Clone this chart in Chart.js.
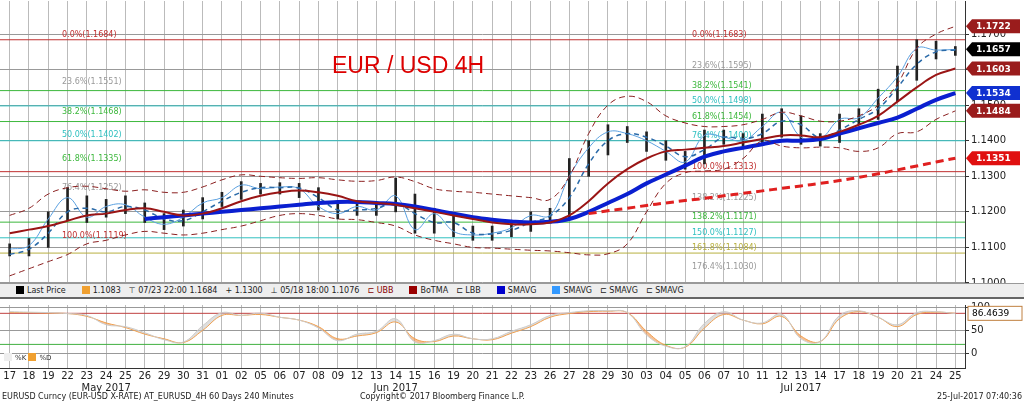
<!DOCTYPE html>
<html><head><meta charset="utf-8">
<script src="https://cdn.jsdelivr.net/npm/chart.js@4.4.0/dist/chart.umd.min.js"></script>
<style>
body{margin:0;background:#fff;width:1024px;height:401px;overflow:hidden;position:relative;font-family:"DejaVu Sans",sans-serif}
#c1{position:absolute;left:0;top:-7px}
#c2{position:absolute;left:0;top:297px}
#leg{position:absolute;left:0;top:283px;width:1024px;height:13px;background:#eee;border-top:1px solid #999;border-bottom:2px solid #666;font-size:8px;line-height:13px;color:#222;white-space:nowrap}
#leg span{margin-left:8px}
.b{display:inline-block;width:8px;height:8px;vertical-align:-1px;margin-right:3px}
#foot{position:absolute;left:2px;top:392px;font-size:8px;color:#222}
#copy{position:absolute;left:360px;top:392px;font-size:8px;color:#222}
#date{position:absolute;right:2px;top:392px;font-size:8px;color:#222}
#title{position:absolute;left:332px;top:52px;color:#d00;font-family:"Liberation Sans",sans-serif;font-size:23px}
#kd{position:absolute;left:4px;top:353px;font-size:7px;color:#333}
</style></head><body>
<canvas id="c1" width="1024" height="304"></canvas>
<canvas id="c2" width="1024" height="104"></canvas>
<div id="title">EUR / USD 4H</div>
<div id="leg"><span><span class="b" style="background:#000"></span>Last Price</span><span><span class="b" style="background:#f0a030"></span>1.1083</span><span>⊤ 07/23 22:00 1.1684</span><span>+ 1.1300</span><span>⊥ 05/18 18:00 1.1076</span><span style="color:#800">⊏ UBB</span><span><span class="b" style="background:#900"></span>BoTMA</span><span>⊏ LBB</span><span><span class="b" style="background:#00c"></span>SMAVG</span><span><span class="b" style="background:#3399ff"></span>SMAVG</span><span>⊏ SMAVG</span><span>⊏ SMAVG</span></div>
<div id="kd"><span class="b" style="background:#eee"></span>%K <span class="b" style="background:#f0a030"></span>%D</div>
<div id="foot">EURUSD Curncy (EUR-USD X-RATE) AT_EURUSD_4H 60 Days 240 Minutes</div>
<div id="copy">Copyright© 2017 Bloomberg Finance L.P.</div>
<div id="date">25-Jul-2017 07:40:36</div>
<script>
const days=['17','18','19','22','23','24','25','26','29','30','31','01','02','05','06','07','08','09','12','13','14','15','16','19','20','21','22','23','26','27','28','29','30','03','04','05','06','07','10','11','12','13','14','17','18','19','20','21','24','25'];
const months={5:'May 2017',20:'Jun 2017',41:'Jul 2017'};
const closeP=[1.1095,1.1105,1.1180,1.1240,1.1185,1.1215,1.1220,1.1185,1.1165,1.1185,1.1225,1.1240,1.1275,1.1265,1.1270,1.1265,1.1215,1.1195,1.1215,1.1205,1.1245,1.1150,1.1195,1.1145,1.1135,1.1140,1.1155,1.1190,1.1190,1.1300,1.1380,1.1425,1.1420,1.1400,1.1370,1.1340,1.1415,1.1410,1.1400,1.1440,1.1480,1.1410,1.1405,1.1460,1.1465,1.1520,1.1580,1.1660,1.1655,1.1657];
const highP=[1.1110,1.1125,1.1200,1.1268,1.1245,1.1235,1.1245,1.1225,1.1195,1.1205,1.1240,1.1255,1.1285,1.1280,1.1282,1.1280,1.1268,1.1225,1.1230,1.1225,1.1295,1.1250,1.1210,1.1190,1.1160,1.1160,1.1175,1.1200,1.1210,1.1350,1.1400,1.1445,1.1440,1.1425,1.1400,1.1370,1.1430,1.1430,1.1420,1.1475,1.1490,1.1470,1.1420,1.1475,1.1490,1.1545,1.1610,1.1684,1.1680,1.1665];
const lowP=[1.1076,1.1076,1.1100,1.1175,1.1170,1.1185,1.1195,1.1170,1.1150,1.1160,1.1180,1.1215,1.1235,1.1250,1.1250,1.1240,1.1205,1.1180,1.1190,1.1190,1.1200,1.1140,1.1140,1.1130,1.1120,1.1120,1.1130,1.1145,1.1170,1.1180,1.1300,1.1360,1.1395,1.1370,1.1345,1.1320,1.1335,1.1390,1.1385,1.1395,1.1410,1.1390,1.1385,1.1395,1.1445,1.1460,1.1510,1.1570,1.1630,1.1640];
const botma=[1.1140,1.1150,1.1160,1.1175,1.1190,1.1195,1.1205,1.1210,1.1200,1.1190,1.1195,1.1210,1.1230,1.1245,1.1255,1.1260,1.1255,1.1245,1.1230,1.1225,1.1220,1.1210,1.1200,1.1190,1.1180,1.1170,1.1165,1.1165,1.1170,1.1190,1.1230,1.1280,1.1320,1.1350,1.1370,1.1375,1.1380,1.1385,1.1395,1.1405,1.1415,1.1415,1.1410,1.1425,1.1445,1.1470,1.1510,1.1550,1.1585,1.1603];
const smaLong=[null,null,null,null,null,null,null,1.1180,1.1185,1.1190,1.1195,1.1200,1.1205,1.1210,1.1215,1.1220,1.1225,1.1228,1.1228,1.1225,1.1222,1.1215,1.1205,1.1195,1.1185,1.1178,1.1173,1.1170,1.1172,1.1180,1.1200,1.1225,1.1250,1.1280,1.1305,1.1330,1.1355,1.1370,1.1380,1.1390,1.1400,1.1400,1.1405,1.1420,1.1435,1.1450,1.1465,1.1490,1.1515,1.1534];
const smaShort=[1.1080,1.1095,1.1140,1.1200,1.1210,1.1200,1.1215,1.1205,1.1180,1.1175,1.1200,1.1230,1.1255,1.1268,1.1268,1.1267,1.1240,1.1205,1.1205,1.1210,1.1225,1.1195,1.1170,1.1170,1.1140,1.1138,1.1148,1.1170,1.1188,1.1240,1.1335,1.1400,1.1420,1.1410,1.1385,1.1355,1.1375,1.1410,1.1405,1.1420,1.1455,1.1445,1.1408,1.1430,1.1460,1.1490,1.1550,1.1615,1.1650,1.1655];
const ubb=[1.1190,1.1210,1.1250,1.1268,1.1272,1.1265,1.1258,1.1262,1.1255,1.1255,1.1270,1.1290,1.1304,1.1300,1.1296,1.1294,1.1296,1.1290,1.1286,1.1288,1.1298,1.1285,1.1265,1.1258,1.1255,1.1250,1.1245,1.1240,1.1235,1.1300,1.1420,1.1500,1.1525,1.1510,1.1470,1.1450,1.1440,1.1440,1.1445,1.1460,1.1480,1.1470,1.1455,1.1455,1.1470,1.1500,1.1560,1.1660,1.1700,1.1722];
const lbb=[1.1020,1.1040,1.1060,1.1080,1.1110,1.1120,1.1135,1.1145,1.1140,1.1135,1.1140,1.1150,1.1160,1.1175,1.1190,1.1195,1.1190,1.1180,1.1178,1.1170,1.1160,1.1135,1.1120,1.1110,1.1100,1.1098,1.1095,1.1092,1.1090,1.1085,1.1079,1.1082,1.1110,1.1200,1.1280,1.1310,1.1315,1.1320,1.1350,1.1400,1.1385,1.1380,1.1382,1.1380,1.1370,1.1380,1.1420,1.1425,1.1460,1.1484];
const sma200=[null,null,null,null,null,null,null,null,null,null,null,null,null,null,null,null,null,null,null,null,null,null,null,null,null,null,null,null,null,null,1.1195,1.1203,1.1210,1.1218,1.1225,1.1232,1.1238,1.1245,1.1252,1.1259,1.1266,1.1273,1.1280,1.1288,1.1297,1.1307,1.1318,1.1329,1.1340,1.1351];
const fibLevels=[1.1684,1.1595,1.1541,1.1498,1.1454,1.1400,1.1313,1.1225,1.1171,1.1127,1.1084,1.1030];
const fibNames=['0.0%(1.1683)','23.6%(1.1595)','38.2%(1.1541)','50.0%(1.1498)','61.8%(1.1454)','76.4%(1.1400)','100.0%(1.1313)','138.2%(1.1225)','138.2%(1.1171)','150.0%(1.1127)','161.8%(1.1084)','176.4%(1.1030)'];
const fibColors=['#c03030','#999','#3cb83c','#30c0c0','#3cb83c','#30c0c0','#c03030','#999','#3cb83c','#30c0c0','#b8b040','#999'];
const fibLeft=[1.1684,1.1551,1.1468,1.1402,1.1335,1.1252,1.1119];
const fibLeftNames=['0.0%(1.1684)','23.6%(1.1551)','38.2%(1.1468)','50.0%(1.1402)','61.8%(1.1335)','76.4%(1.1252)','100.0%(1.1119)'];
const fibLeftColors=['#c03030','#999','#3cb83c','#30c0c0','#3cb83c','#999','#c03030'];
const tagVals=[1.1722,1.1657,1.1603,1.1534,1.1484,1.1351];
const tagColors=['#9a1c1c','#000','#9a1c1c','#1030d0','#9a1c1c','#e01010'];
const priceTicks=[1.10,1.11,1.12,1.13,1.14,1.15,1.16,1.17];
const stochK=[90,89,88,86,82,62,58,45,30,25,60,88,82,87,78,72,55,28,42,48,75,25,28,42,32,32,48,62,82,88,92,92,88,40,16,15,65,90,72,66,85,32,26,82,92,78,62,88,90,86];
const stochD=[88,88,87,86,80,66,56,42,32,24,50,82,82,84,78,72,58,32,38,45,68,32,26,38,32,30,44,58,78,86,90,91,88,48,18,14,55,84,72,64,80,38,26,75,90,78,58,84,89,86.4639];
const oscTicks=[100,50,0];

const dashGrid={color:'#bbb',lineWidth:1,borderDash:[4,3],offset:false};
const fibPlugin={id:'fib',beforeDatasetsDraw(c){const y=c.scales.y,ctx=c.ctx,a=c.chartArea;ctx.save();ctx.font='8px DejaVu Sans';
 fibLevels.forEach((v,i)=>{const py=y.getPixelForValue(v);if(fibColors[i]!=='#999'){ctx.strokeStyle=fibColors[i];ctx.lineWidth=1;ctx.beginPath();ctx.moveTo(a.left,py);ctx.lineTo(a.right,py);ctx.stroke();}
  ctx.fillStyle=fibColors[i];ctx.fillText(fibNames[i],692,py-3);});
 fibLeft.forEach((v,i)=>{const py=y.getPixelForValue(v);ctx.fillStyle=fibLeftColors[i];ctx.fillText(fibLeftNames[i],62,py-3);});
 ctx.restore();},
 afterDraw(c){const y=c.scales.y,ctx=c.ctx;ctx.save();ctx.font='bold 9px DejaVu Sans';
 tagVals.forEach((v,i)=>{const py=y.getPixelForValue(v);ctx.fillStyle=tagColors[i];ctx.beginPath();ctx.moveTo(966,py);ctx.lineTo(972,py-7);ctx.lineTo(1020,py-7);ctx.lineTo(1020,py+7);ctx.lineTo(972,py+7);ctx.closePath();ctx.fill();ctx.fillStyle='#fff';ctx.fillText(v.toFixed(4),976,py+3);});
 ctx.restore();}};
const line=(d,col,w,dash)=>({type:'line',data:d,borderColor:col,borderWidth:w,borderDash:dash||[],pointRadius:0,tension:0.4,spanGaps:false,fill:false});
new Chart(document.getElementById('c1'),{type:'bar',
 data:{labels:days,datasets:[
  line(sma200,'#e02020',3,[8,5]),
  line(ubb,'#8b2020',1,[6,4]),line(lbb,'#8b2020',1,[6,4]),
  line(botma,'#9a1515',2),line(smaLong,'#0a1fd0',4),
  line(smaShort,'#2a6aa8',1.5,[5,4]),
  line(closeP,'#5aa0e0',1),
  {type:'bar',data:lowP.map((l,i)=>[l,highP[i]]),backgroundColor:'#222',barThickness:2},
 ]},
 options:{responsive:false,animation:false,layout:{padding:0},plugins:{legend:{display:false},tooltip:{enabled:false}},
  scales:{x:{offset:true,grid:dashGrid,ticks:{display:false},border:{display:false}},
   y:{position:'right',min:1.0983,max:1.1793,afterFit(s){s.width=59},afterBuildTicks(s){s.ticks=priceTicks.map(v=>({value:v}))},
    grid:{color:'#999',borderDash:[1,2],drawTicks:true,tickLength:4,tickColor:'#333'},border:{color:'#333'},
    ticks:{color:'#222',font:{size:10,family:'DejaVu Sans'},padding:2,callback:v=>v.toFixed(4)}}}},
 plugins:[fibPlugin]});
const oscPlugin={id:'osc',beforeDatasetsDraw(c){const y=c.scales.y,ctx=c.ctx,a=c.chartArea;ctx.save();
 [[86.5,'#c04040'],[20,'#40b040']].forEach(([v,col])=>{const py=y.getPixelForValue(v);ctx.strokeStyle=col;ctx.lineWidth=1;ctx.beginPath();ctx.moveTo(a.left,py);ctx.lineTo(a.right,py);ctx.stroke();});ctx.restore();},
 afterDraw(c){const y=c.scales.y,ctx=c.ctx,py=y.getPixelForValue(86.4639);ctx.save();ctx.fillStyle='#fff';ctx.strokeStyle='#c08040';ctx.fillRect(968,py-7,54,14);ctx.strokeRect(968,py-7,54,14);ctx.fillStyle='#000';ctx.font='9px DejaVu Sans';ctx.fillText('86.4639',972,py+3);ctx.restore();}};
new Chart(document.getElementById('c2'),{type:'line',
 data:{labels:days,datasets:[
  {data:stochK,borderColor:'#ccc',borderWidth:1,pointRadius:0,tension:0.4,fill:false},
  {data:stochD,borderColor:'#f0a050',borderWidth:1,pointRadius:0,tension:0.4,fill:{target:0,above:'rgba(240,150,80,0.6)',below:'rgba(200,200,200,0.6)'}}]},
 options:{responsive:false,animation:false,layout:{padding:0},plugins:{legend:{display:false},tooltip:{enabled:false}},
  scales:{x:{offset:true,grid:{...dashGrid,drawTicks:false},border:{color:'#333'},afterFit(s){s.height=33},
    ticks:{autoSkip:false,maxRotation:0,color:'#222',font:{size:10,family:'DejaVu Sans'},padding:2,callback:(v,i)=>months[i]?[days[i],months[i]]:days[i]}},
   y:{position:'right',min:-30.5,max:104.3,afterFit(s){s.width=59},afterBuildTicks(s){s.ticks=oscTicks.map(v=>({value:v}))},
    grid:{color:'#999',borderDash:[1,2],tickLength:4,tickColor:'#333'},border:{color:'#333'},
    ticks:{color:'#222',font:{size:10,family:'DejaVu Sans'},padding:2}}}},
 plugins:[oscPlugin]});
</script></body></html>
